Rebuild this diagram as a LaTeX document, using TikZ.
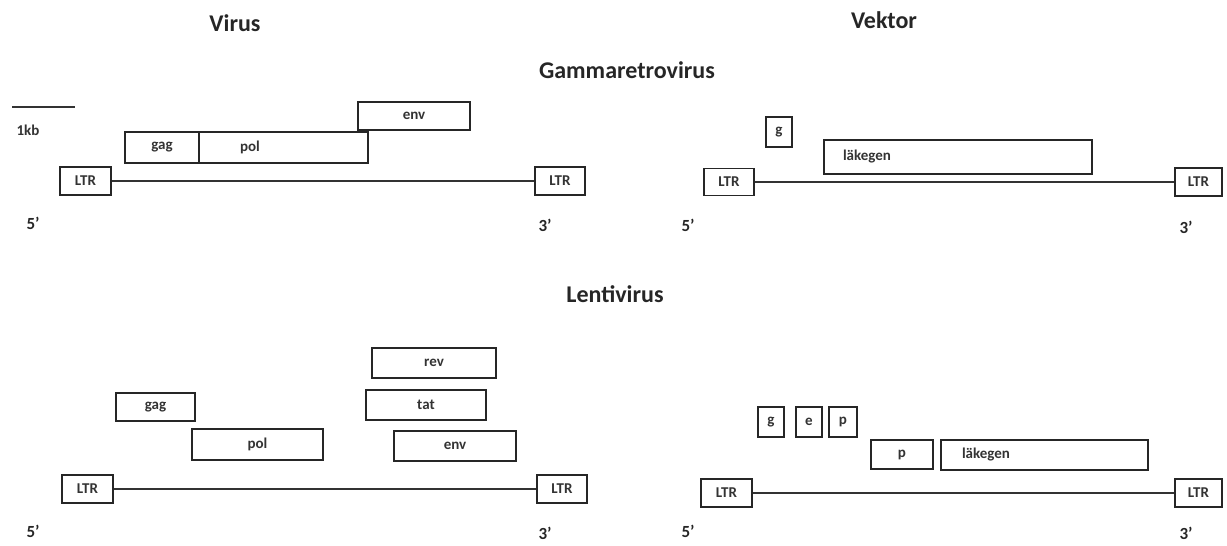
\documentclass[tikz,border=0pt]{standalone}
\usepackage{fontspec}
\setmainfont{Carlito}
\begin{document}
\begin{tikzpicture}[x=1pt,y=-1pt,
  lbl/.style={font=\bfseries\fontsize{15}{16}\selectfont, text=black!80},
  gbox/.style={draw=black!85, line width=1.8pt, inner sep=0pt, lbl},
  leftbox/.style={inner xsep=#1, inner ysep=0pt, align=left},
  title/.style={font=\bfseries\fontsize{24}{26}\selectfont, text=black!85},
  lab/.style={font=\bfseries\fontsize{17}{18}\selectfont, text=black!85},
  chain/.style={draw=black!80, line width=2pt}]
\useasboundingbox (0,0) rectangle (1227,546);
% titles
\node[title] (tvirus) at (235,23) {Virus};
\node[title] (tvektor) at (884,20) {Vektor};
\node[title] (tgamma) at (627,70) {Gammaretrovirus};
\node[title] (tlenti) at (615,294) {Lentivirus};
% scale bar
\coordinate (sb1) at (12,107);
\coordinate (sb2) at (75,107);
\draw[chain] (sb1) -- (sb2);
\node[lbl] (kb) at (28,130) {1kb};
% ---- top left: gammaretrovirus virus
\node[gbox, minimum width=112pt, minimum height=28pt] (genv) at (414,116) {env};
\node[gbox, minimum width=74pt, minimum height=31pt] (ggag) at (162,147.5) {gag};
\node[gbox, leftbox=41pt, text width=87pt, minimum height=31pt] (gpol) at (283.5,147.5) {pol};
\node[gbox, minimum width=51pt, minimum height=28pt] (gltrA) at (85.5,181) {LTR};
\node[gbox, minimum width=50pt, minimum height=28pt] (gltrB) at (560,181) {LTR};
\draw[chain] (gltrA) -- (gltrB);
\node[lab] (g5) at (33,223) {5'};
\node[lab] (g3) at (545,225) {3'};
% ---- top right: gammaretrovirus vector
\node[gbox, minimum width=26pt, minimum height=30pt] (vg) at (779,132) {g};
\node[gbox, leftbox=19pt, text width=230pt, minimum height=34pt] (vlak) at (958,157) {läkegen};
\node[gbox, minimum width=50pt, minimum height=27pt] (vltrA) at (729,182) {LTR};
\node[gbox, minimum width=47pt, minimum height=28pt] (vltrB) at (1198.5,182) {LTR};
\draw[chain] (vltrA) -- (vltrB);
\node[lab] (v5) at (688,225) {5'};
\node[lab] (v3) at (1186,227) {3'};
% ---- bottom left: lentivirus virus
\node[gbox, minimum width=124pt, minimum height=30pt] (lrev) at (434,363) {rev};
\node[gbox, minimum width=120pt, minimum height=30pt] (ltat) at (426,405) {tat};
\node[gbox, minimum width=79pt, minimum height=28pt] (lgag) at (155.5,407) {gag};
\node[gbox, minimum width=131pt, minimum height=31pt] (lpol) at (257.5,444.5) {pol};
\node[gbox, minimum width=122pt, minimum height=30pt] (lenv) at (455,446) {env};
\node[gbox, minimum width=51pt, minimum height=28pt] (lltrA) at (87.5,489) {LTR};
\node[gbox, minimum width=50pt, minimum height=28pt] (lltrB) at (562,489) {LTR};
\draw[chain] (lltrA) -- (lltrB);
\node[lab] (l5) at (33,531) {5'};
\node[lab] (l3) at (545,533) {3'};
% ---- bottom right: lentivirus vector
\node[gbox, minimum width=26pt, minimum height=30pt] (wg) at (771,422) {g};
\node[gbox, minimum width=26pt, minimum height=30pt] (we) at (809,422) {e};
\node[gbox, minimum width=28pt, minimum height=30pt] (wp) at (843,422) {p};
\node[gbox, minimum width=62pt, minimum height=29pt] (wp2) at (902,454.5) {p};
\node[gbox, leftbox=21pt, text width=165pt, minimum height=30pt] (wlak) at (1044.5,455) {läkegen};
\node[gbox, minimum width=51pt, minimum height=28pt] (wltrA) at (726.5,493) {LTR};
\node[gbox, minimum width=47pt, minimum height=28pt] (wltrB) at (1198.5,493) {LTR};
\draw[chain] (wltrA) -- (wltrB);
\node[lab] (w5) at (688,531) {5'};
\node[lab] (w3) at (1186,533) {3'};
\end{tikzpicture}
\end{document}
